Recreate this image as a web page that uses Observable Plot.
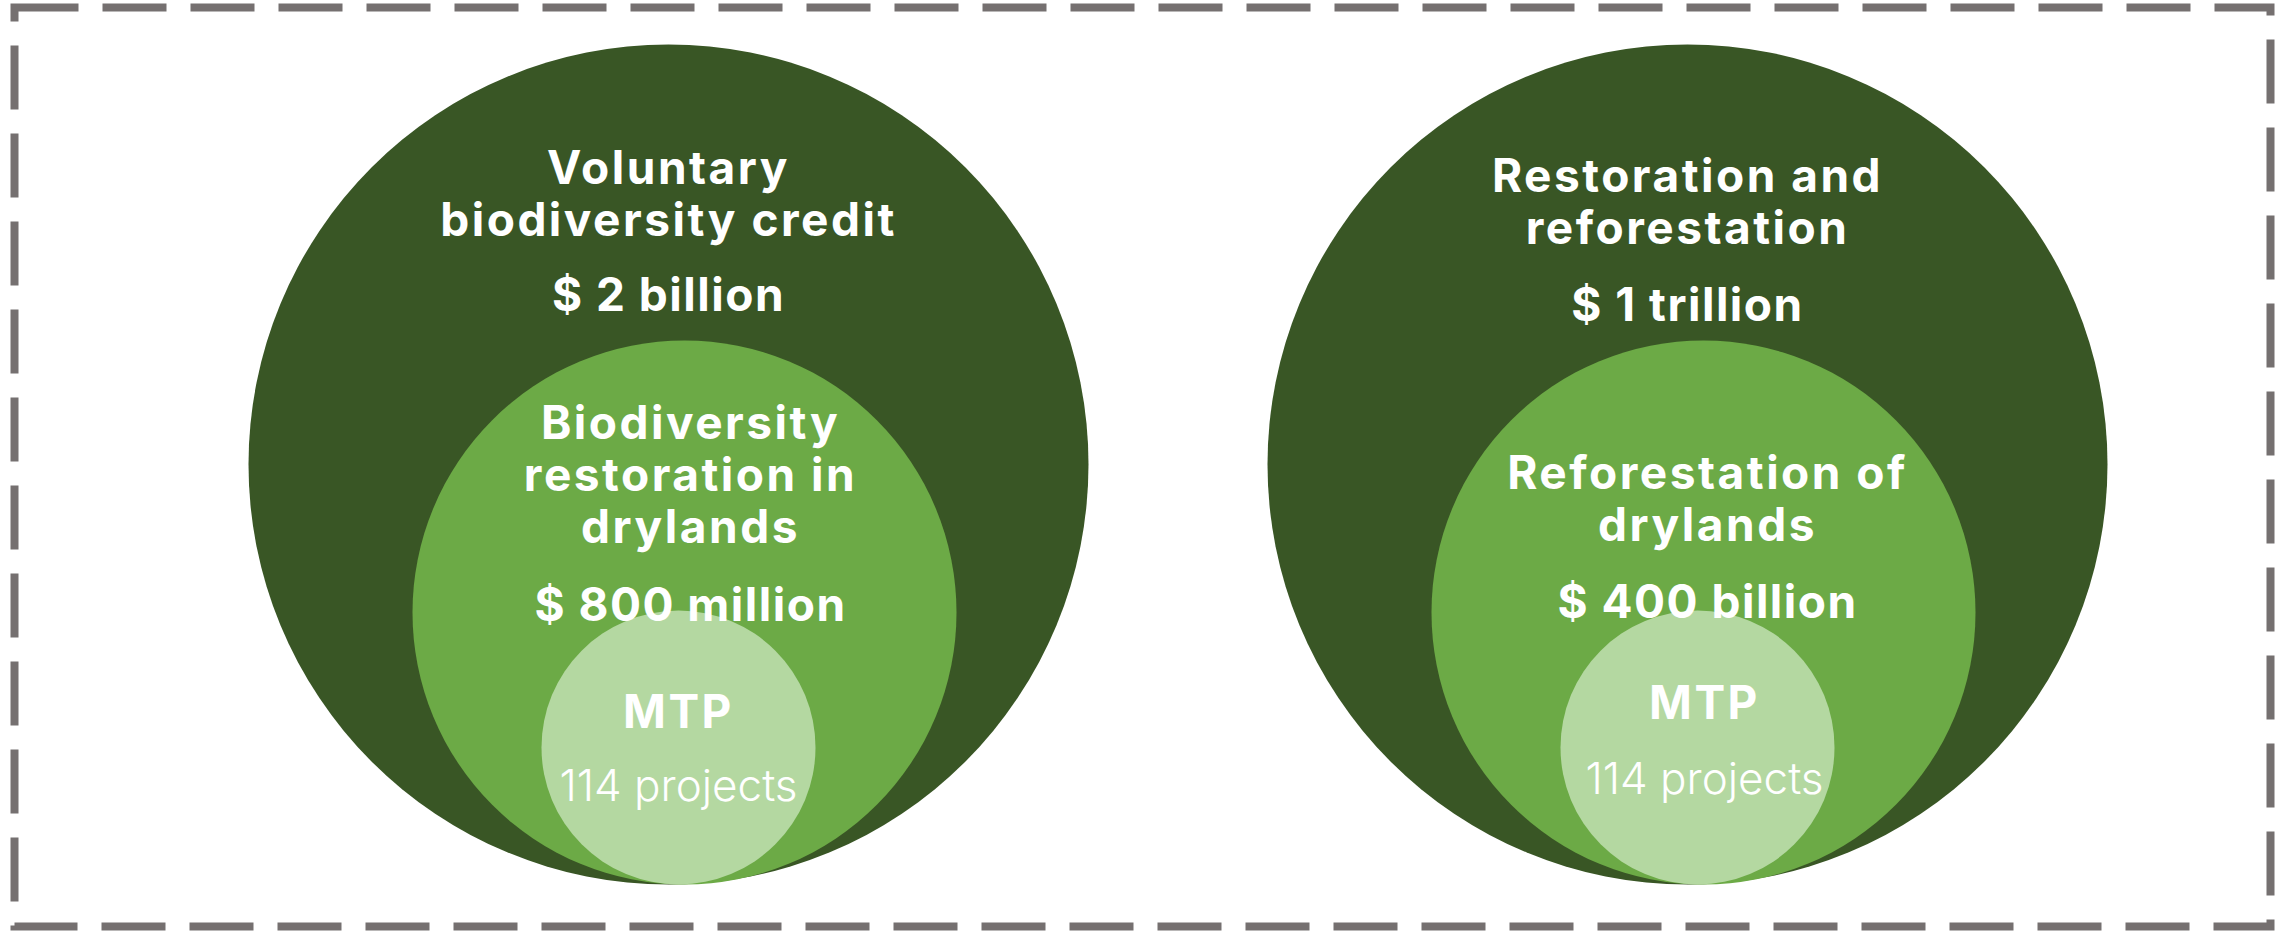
<!DOCTYPE html>
<html>
<head>
<meta charset="utf-8">
<script src="https://cdn.jsdelivr.net/npm/d3@7"></script>
<script src="https://cdn.jsdelivr.net/npm/@observablehq/plot@0.6"></script>
<style>
  html, body { margin: 0; padding: 0; background: #ffffff; }
  #chart svg { display: block; }
</style>
</head>
<body>
<div id="chart"></div>
<script>
// ---------- DATA ----------
const panels = ["Voluntary biodiversity credit", "Restoration and reforestation"];
const outerLabels = ["Voluntary\nbiodiversity credit", "Restoration and\nreforestation"];
const outerValues = ["$ 2 billion", "$ 1 trillion"];
const middleLabels = ["Biodiversity\nrestoration in\ndrylands", "Reforestation of\ndrylands"];
const middleValues = ["$ 800 million", "$ 400 billion"];
const innerLabels = ["MTP", "MTP"];
const innerValues = ["114 projects", "114 projects"];
const levels = ["outer", "middle", "inner"];

// ---------- LAYOUT (not data) ----------
const W = 2285, H = 933;
const panelCenter = [668, 1687];
const levelR = {outer: 420, middle: 272, inner: 137};
const levelDx = {outer: 0, middle: 16, inner: 10};
const circleBottom = 884;
const levelFill = {outer: "#395625", middle: "#6caa46", inner: "#b4d8a1"};
// text anchors per panel: [x, baseline of last label line, baseline of value]
const textPos = {
  outer:  [[668, 235, 310], [1687, 243, 320]],
  middle: [[690, 542, 620], [1707, 540, 617]],
  inner:  [[678, 727, 800], [1704, 718, 793]]
};
const LINE = 52;
const FS = 46;
const FONT = "Inter, 'Noto Sans', sans-serif";

// build tables from the arrays
const circles = [];
panels.forEach((p, i) => levels.forEach(lv => circles.push({panel: i, level: lv})));

const labelText = {outer: outerLabels, middle: middleLabels, inner: innerLabels};
const valueText = {outer: outerValues, middle: middleValues, inner: innerValues};
const labels = [], values = [];
panels.forEach((p, i) => levels.forEach(lv => {
  labels.push({panel: i, level: lv, text: labelText[lv][i]});
  values.push({panel: i, level: lv, text: valueText[lv][i]});
}));

const circleMarks = levels.map(lv => Plot.dot(circles.filter(d => d.level === lv), {
  x: d => panelCenter[d.panel] + levelDx[lv],
  y: () => circleBottom - levelR[lv],
  r: levelR[lv],
  fill: levelFill[lv],
  stroke: "none"
}));

const tx = d => textPos[d.level][d.panel][0];

const chart = Plot.plot({
  width: W,
  height: H,
  margin: 0,
  x: {domain: [0, W], range: [0, W], axis: null},
  y: {domain: [0, H], range: [0, H], axis: null},
  marks: [
    Plot.frame({
      stroke: "#757070",
      strokeWidth: 8,
      strokeDasharray: "64,24",
      insetLeft: 14, insetTop: 7, insetRight: 15, insetBottom: 7
    }),
    ...circleMarks,
    Plot.text(labels, {
      x: tx,
      y: d => textPos[d.level][d.panel][1],
      text: "text",
      lineAnchor: "bottom",
      lineHeight: LINE / FS,
      fill: "white",
      fontSize: FS,
      fontWeight: 700,
      fontFamily: FONT
    }),
    Plot.text(values.filter(d => d.level !== "inner"), {
      x: tx,
      y: d => textPos[d.level][d.panel][2],
      text: "text",
      lineAnchor: "bottom",
      fill: "white",
      fontSize: FS,
      fontWeight: 700,
      fontFamily: FONT
    }),
    Plot.text(values.filter(d => d.level === "inner"), {
      x: tx,
      y: d => textPos[d.level][d.panel][2],
      text: "text",
      lineAnchor: "bottom",
      fill: "white",
      fontSize: 44,
      fontWeight: 300,
      fontFamily: FONT
    })
  ]
});
// wider letter spacing for the bold texts, to approach the geometric original face
const textGroups = d3.select(chart).selectAll("g[aria-label='text']").nodes();
textGroups[0].setAttribute("letter-spacing", "2.5");
textGroups[1].setAttribute("letter-spacing", "1.5");
document.getElementById("chart").appendChild(chart);
</script>
</body>
</html>
